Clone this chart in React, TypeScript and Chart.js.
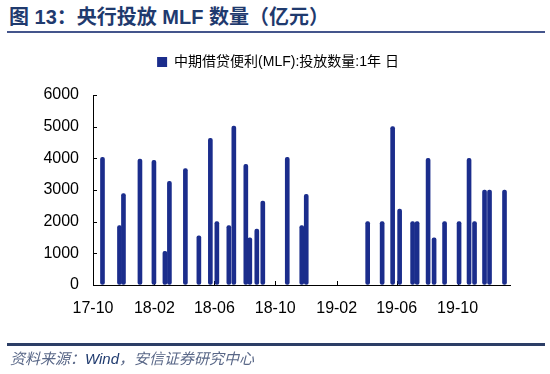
import React, { useEffect, useRef } from "react";
import { Chart, registerables } from "chart.js";

Chart.register(...registerables);

// Data
const ISSUE_DATES = [
  "2017-11-02", "2017-12-06", "2017-12-14", "2018-01-16", "2018-02-13",
  "2018-03-07", "2018-03-16", "2018-04-17", "2018-05-14", "2018-06-06",
  "2018-06-19", "2018-07-13", "2018-07-23", "2018-08-16", "2018-08-24",
  "2018-09-07", "2018-09-19", "2018-11-07", "2018-12-06", "2018-12-15",
  "2019-04-17", "2019-05-16", "2019-06-06", "2019-06-20", "2019-07-16",
  "2019-07-25", "2019-08-16", "2019-08-28", "2019-09-18", "2019-10-17",
  "2019-11-06", "2019-11-17", "2019-12-07", "2019-12-17", "2020-01-16",
];
const MLF_AMOUNT = [
  4030, 1880, 2890, 3980, 3935,
  1060, 3275, 3675, 1550, 4630,
  2000, 1880, 5020, 3810, 1490,
  1765, 2650, 4035, 1875, 2860,
  2000, 2000, 5000, 2400, 2000,
  2000, 4000, 1490, 2000, 2000,
  4000, 2000, 3000, 3000, 3000,
];
const TICK_DATES = ["2017-10-14", "2018-02-14", "2018-06-14", "2018-10-14", "2019-02-14", "2019-06-14", "2019-10-14"];
const TICK_LABELS = ["17-10", "18-02", "18-06", "18-10", "19-02", "19-06", "19-10"];
const AXIS_START = "2017-10-14";
const AXIS_END = "2020-01-27";
const Y_TICKS = [0, 1000, 2000, 3000, 4000, 5000, 6000];
const SERIES_NAME = "中期借贷便利(MLF):投放数量:1年 日";

const EPOCH = Date.UTC(2017, 9, 1);
function dayOf(s: string): number {
  const [y, m, d] = s.split("-").map(Number);
  return Math.round((Date.UTC(y, m - 1, d) - EPOCH) / 86400000);
}

const BAR_COLOR = "#1b2d8c";
const FONT = '"Liberation Sans", Arial, "Noto Sans CJK SC", sans-serif';

const innerTicks = {
  id: "innerTicks",
  beforeDatasetsDraw(chart: any) {
    const { ctx, chartArea, scales } = chart;
    ctx.save();
    ctx.strokeStyle = "#000";
    ctx.lineWidth = 1;
    scales.y.ticks.forEach((t: any) => {
      const y = Math.round(scales.y.getPixelForValue(t.value)) + 0.5;
      ctx.beginPath();
      ctx.moveTo(chartArea.left, y);
      ctx.lineTo(chartArea.left + 4, y);
      ctx.stroke();
    });
    scales.x.ticks.forEach((t: any) => {
      const x = Math.round(scales.x.getPixelForValue(t.value)) + 0.5;
      ctx.beginPath();
      ctx.moveTo(x, chartArea.bottom);
      ctx.lineTo(x, chartArea.bottom - 4);
      ctx.stroke();
    });
    ctx.restore();
  },
};

function MlfChart() {
  const ref = useRef<HTMLCanvasElement | null>(null);
  useEffect(() => {
    if (!ref.current) return;
    const points = ISSUE_DATES.map((d, i) => ({ x: dayOf(d), y: MLF_AMOUNT[i] }));
    const tickDays = TICK_DATES.map(dayOf);
    const chart = new Chart(ref.current, {
      type: "bar",
      data: {
        datasets: [
          {
            label: SERIES_NAME,
            data: points,
            backgroundColor: BAR_COLOR,
            borderColor: BAR_COLOR,
            borderWidth: 0,
            barThickness: 4,
            borderRadius: 2,
            borderSkipped: false,
          },
        ],
      },
      options: {
        animation: false,
        responsive: false,
        maintainAspectRatio: false,
        layout: { padding: { left: 6, right: 0, top: 31, bottom: 59 } },
        plugins: {
          legend: {
            display: true,
            position: "top",
            labels: {
              boxWidth: 10,
              boxHeight: 10,
              padding: 24,
              color: "#000",
              font: { family: FONT, size: 14 },
            },
          },
          tooltip: { enabled: false },
        },
        scales: {
          x: {
            type: "linear",
            offset: false,
            bounds: "data",
            min: dayOf(AXIS_START),
            max: dayOf(AXIS_END),
            afterBuildTicks: (axis: any) => {
              axis.ticks = tickDays.map((v) => ({ value: v }));
            },
            afterFit: (axis: any) => {
              axis.height = 30;
            },
            grid: { display: true, offset: false, drawOnChartArea: false, drawTicks: false },
            border: { display: true, color: "#000", width: 1 },
            ticks: {
              autoSkip: false,
              maxRotation: 0,
              minRotation: 0,
              padding: 14,
              color: "#000",
              font: { family: FONT, size: 16 },
              callback: (_v: any, i: number) => TICK_LABELS[i],
            },
          },
          y: {
            min: Y_TICKS[0],
            max: Y_TICKS[Y_TICKS.length - 1],
            afterFit: (axis: any) => {
              axis.width = 87;
            },
            afterBuildTicks: (axis: any) => {
              axis.ticks = Y_TICKS.map((v) => ({ value: v }));
            },
            grid: { display: true, drawOnChartArea: false, drawTicks: false },
            border: { display: true, color: "#000", width: 1 },
            ticks: {
              padding: 14,
              color: "#000",
              font: { family: FONT, size: 16 },
              callback: (v: any) => String(v),
            },
          },
          spacer: {
            type: "linear",
            axis: "y",
            position: "right",
            display: true,
            afterFit: (axis: any) => {
              axis.width = 40;
            },
            grid: { display: false, drawTicks: false },
            border: { display: false },
            ticks: { display: false },
          },
          spacerTop: {
            type: "linear",
            axis: "x",
            position: "top",
            display: true,
            afterFit: (axis: any) => {
              axis.height = 16;
            },
            grid: { display: false, drawTicks: false },
            border: { display: false },
            ticks: { display: false },
          },
        },
      },
      plugins: [innerTicks],
    });
    return () => chart.destroy();
  }, []);
  return <canvas ref={ref} width={550} height={374} style={{ position: "absolute", left: 0, top: 0 }} />;
}

export default function App() {
  return (
    <div
      style={{
        position: "fixed",
        left: 0,
        top: 0,
        width: 550,
        height: 374,
        background: "#fff",
        overflow: "hidden",
        fontFamily: FONT,
      }}
    >
      <div
        style={{
          position: "absolute",
          left: 9,
          top: 4,
          fontSize: 20,
          fontWeight: "bold",
          color: "#1f3a6e",
          whiteSpace: "nowrap",
          lineHeight: "26px",
        }}
      >
        图 13：央行投放 MLF 数量（亿元）
      </div>
      <div style={{ position: "absolute", left: 7, top: 31, width: 538, height: 2, background: "#44558c" }} />
      <MlfChart />
      <div style={{ position: "absolute", left: 7, top: 343, width: 538, height: 3, background: "#2c3e66" }} />
      <div
        style={{
          position: "absolute",
          left: 10,
          top: 349,
          fontSize: 15,
          fontStyle: "italic",
          color: "#5a6888",
          whiteSpace: "nowrap",
          lineHeight: "20px",
        }}
      >
        资料来源：<span style={{ color: "#1f3a6e" }}>Wind</span>，安信证券研究中心
      </div>
    </div>
  );
}
